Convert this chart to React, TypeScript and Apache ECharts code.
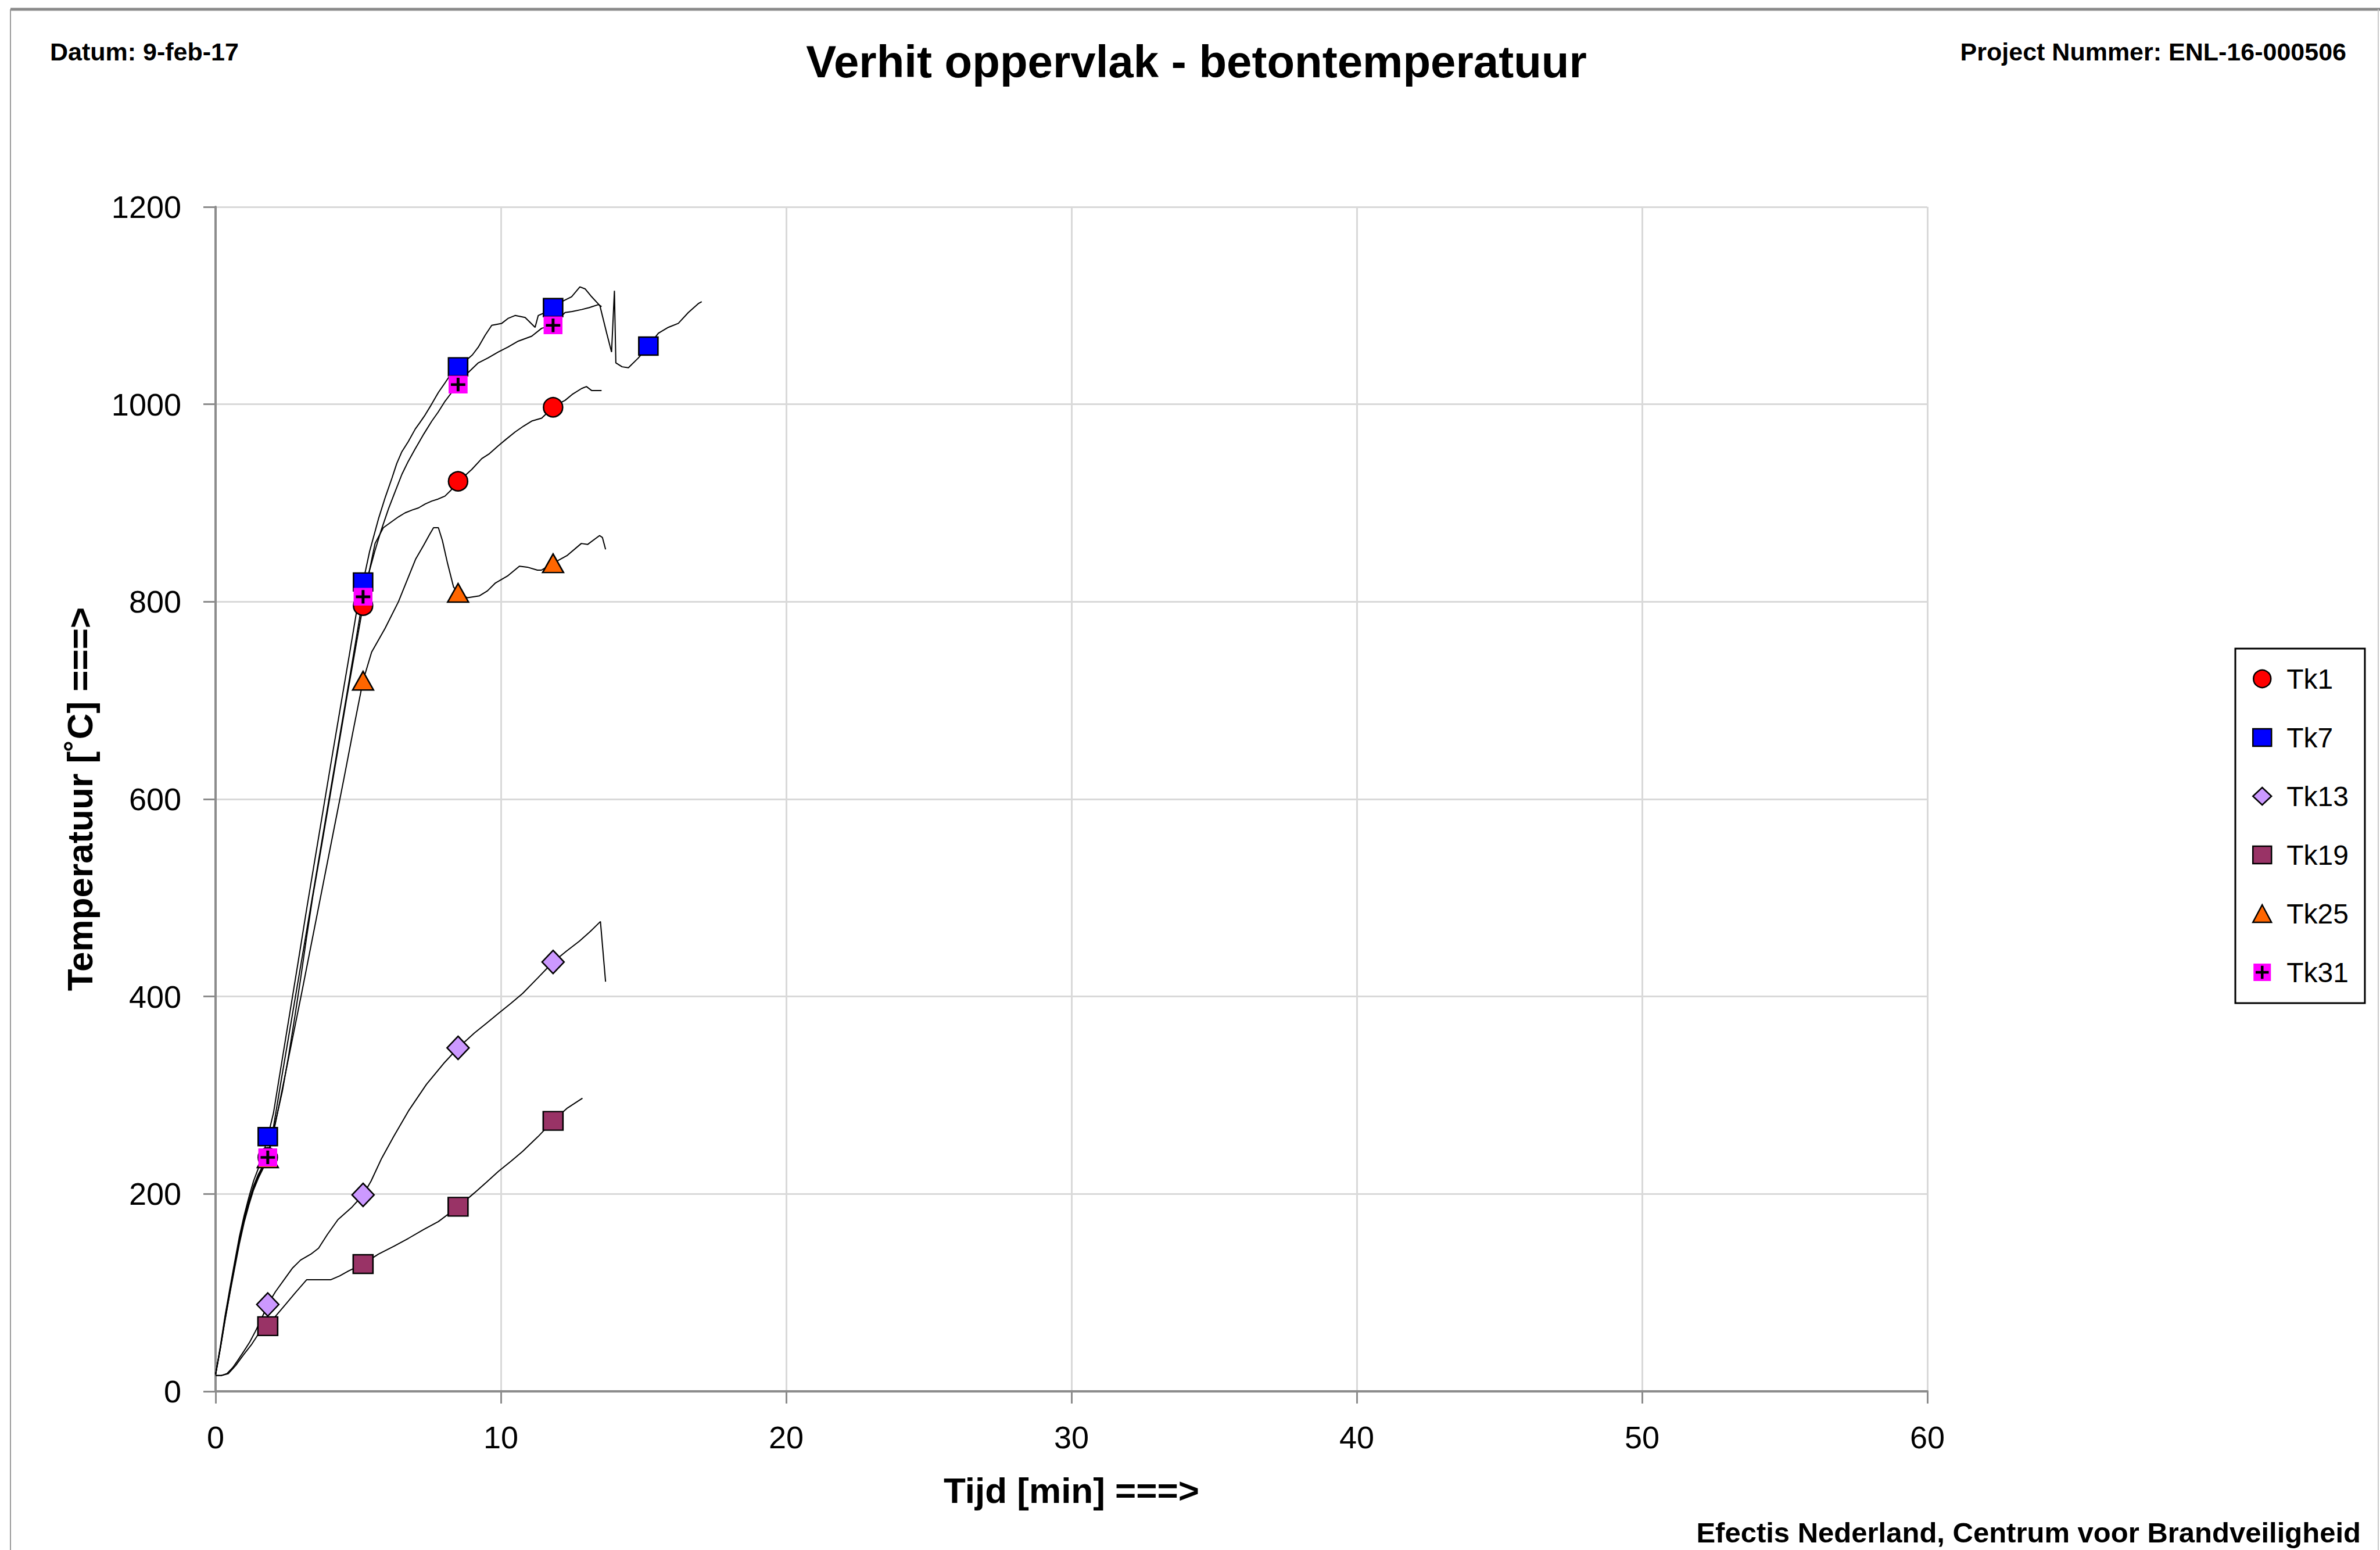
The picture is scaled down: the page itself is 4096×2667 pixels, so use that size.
import React, { useEffect, useRef } from 'react';
import * as echarts from 'echarts';

const FONT = '"Liberation Sans", Arial, Helvetica, sans-serif';

const headerLeft = 'Datum: 9-feb-17';
const headerRight = 'Project Nummer: ENL-16-000506';
const chartTitle = 'Verhit oppervlak - betontemperatuur';
const footerText = 'Efectis Nederland, Centrum voor Brandveiligheid';
const xAxisTitle = 'Tijd [min] ===>';
const yAxisTitle = 'Temperatuur [˚C] ===>';

const markerTimes = [1.83, 5.17, 8.5, 11.83, 15.17];

const seriesNames = ['Tk1', 'Tk7', 'Tk13', 'Tk19', 'Tk25', 'Tk31'];
const markerColors = ['#ff0000', '#0000ff', '#cc99ff', '#993366', '#ff6600', '#ff00ff'];

const t1 = [0, 0.17, 0.33, 0.5, 0.67, 0.83, 1.0, 1.17, 1.33, 1.5, 1.67, 1.83, 2.03, 2.34, 2.56, 2.77, 2.98, 3.19, 3.4, 3.7, 4.0, 4.3, 4.6, 4.9, 5.17, 5.36, 5.59, 5.88, 6.12, 6.41, 6.64, 6.9, 7.11, 7.35, 7.58, 7.8, 8.04, 8.25, 8.5, 8.75, 8.98, 9.33, 9.6, 9.91, 10.2, 10.5, 10.8, 11.08, 11.43, 11.83, 12.05, 12.25, 12.5, 12.83, 13.0, 13.18, 13.53];
const v1 = [17, 44, 72, 100, 127, 151, 173, 191, 206, 218, 228, 237, 264, 304, 340, 378, 418, 460, 500, 550, 601, 652, 703, 752, 796, 827, 859, 875, 880, 886, 890, 893, 895, 899, 902, 904, 907, 913, 922, 928, 934, 945, 950, 958, 965, 972, 978, 983, 986, 997, 1001, 1004, 1010, 1016, 1018, 1014, 1014];

const t7 = [0, 0.17, 0.33, 0.5, 0.67, 0.83, 1.0, 1.17, 1.33, 1.5, 1.67, 1.83, 2.03, 2.3, 2.6, 2.9, 3.2, 3.5, 3.8, 4.1, 4.4, 4.7, 5.0, 5.17, 5.4, 5.71, 5.95, 6.18, 6.35, 6.53, 6.75, 7.0, 7.15, 7.34, 7.55, 7.81, 8.05, 8.28, 8.5, 8.8, 9.0, 9.21, 9.45, 9.68, 10.03, 10.25, 10.5, 10.85, 11.2, 11.31, 11.55, 11.83, 12.13, 12.48, 12.77, 12.95, 13.18, 13.47, 13.71, 13.88, 13.98, 14.03, 14.25, 14.47, 14.82, 15.17, 15.52, 15.87, 16.22, 16.57, 16.92, 17.04];
const v7 = [17, 46, 76, 104, 131, 156, 178, 197, 213, 226, 240, 258, 282, 330, 383, 436, 490, 542, 594, 646, 697, 748, 800, 820, 851, 884, 906, 925, 940, 952, 962, 975, 981, 989, 999, 1012, 1022, 1032, 1038, 1045, 1050, 1058, 1070, 1080, 1082, 1087, 1090, 1088, 1078, 1090, 1093, 1098, 1104, 1109, 1119, 1117, 1109, 1100, 1072, 1053, 1115, 1042, 1038, 1037, 1047, 1059, 1072, 1078, 1082, 1093, 1102, 1104];

const t13 = [0, 0.2, 0.4, 0.6, 0.77, 1.0, 1.2, 1.4, 1.6, 1.83, 2.1, 2.45, 2.7, 2.98, 3.34, 3.61, 3.92, 4.29, 4.76, 5.17, 5.45, 5.82, 6.24, 6.76, 7.39, 8.02, 8.5, 9.07, 9.5, 9.92, 10.35, 10.76, 11.3, 11.83, 12.3, 12.75, 13.1, 13.49, 13.67];
const v13 = [16, 16, 18, 24, 31, 41, 50, 61, 73, 88, 101, 115, 125, 133, 139, 145, 159, 174, 186, 199, 213, 236, 258, 284, 311, 333, 348, 363, 373, 383, 393, 403, 419, 435, 446, 456, 465, 476, 415];

const t19 = [0, 0.2, 0.45, 0.7, 0.98, 1.25, 1.5, 1.83, 2.1, 2.45, 2.8, 3.19, 3.5, 4.03, 4.35, 4.66, 5.17, 5.71, 6.25, 6.76, 7.3, 7.81, 8.5, 9.07, 9.5, 9.92, 10.35, 10.76, 11.3, 11.83, 12.33, 12.86];
const v19 = [16, 16, 18, 26, 37, 47, 58, 66, 76, 88, 100, 113, 113, 113, 117, 122, 129, 139, 147, 155, 164, 172, 187, 201, 212, 223, 233, 243, 258, 274, 287, 297];

const t25 = [0, 0.17, 0.33, 0.5, 0.67, 0.83, 1.0, 1.17, 1.33, 1.5, 1.67, 1.83, 2.1, 2.4, 2.7, 3.0, 3.3, 3.6, 3.9, 4.2, 4.5, 4.8, 5.17, 5.47, 5.94, 6.41, 6.73, 7.01, 7.29, 7.5, 7.64, 7.81, 7.95, 8.13, 8.34, 8.5, 8.83, 9.25, 9.53, 9.81, 10.23, 10.65, 10.93, 11.28, 11.42, 11.83, 12.33, 12.82, 13.04, 13.46, 13.56, 13.67];
const v25 = [17, 44, 72, 99, 125, 149, 171, 189, 204, 216, 226, 236, 272, 315, 358, 401, 445, 489, 533, 577, 621, 666, 720, 749, 773, 800, 823, 843, 857, 868, 875, 875, 862, 839, 815, 809, 804, 806, 811, 819, 826, 836, 835, 832, 832, 839, 847, 859, 858, 867, 865, 853];

const t31 = [0, 0.17, 0.33, 0.5, 0.67, 0.83, 1.0, 1.17, 1.33, 1.5, 1.67, 1.83, 2.03, 2.3, 2.6, 2.9, 3.2, 3.5, 3.8, 4.1, 4.4, 4.7, 5.0, 5.17, 5.38, 5.59, 5.8, 6.06, 6.3, 6.53, 6.75, 7.0, 7.3, 7.58, 7.8, 8.04, 8.25, 8.5, 8.85, 9.21, 9.55, 9.91, 10.25, 10.61, 11.08, 11.43, 11.83, 12.05, 12.25, 12.5, 12.83, 13.1, 13.42, 13.53];
const v31 = [17, 45, 74, 102, 129, 153, 175, 193, 208, 220, 229, 237, 268, 315, 366, 417, 468, 519, 570, 621, 672, 723, 775, 805, 830, 852, 872, 894, 912, 929, 942, 955, 970, 983, 992, 1003, 1011, 1020, 1032, 1042, 1047, 1053, 1058, 1064, 1069, 1077, 1080, 1087, 1093, 1094, 1096, 1098, 1101, 1099];

const seriesTimes = [t1, t7, t13, t19, t25, t31];
const seriesValues = [v1, v7, v13, v19, v25, v31];

const plusSvg =
  '<svg xmlns="http://www.w3.org/2000/svg" width="40" height="40" viewBox="0 0 40 40">' +
  '<rect x="0" y="0" width="40" height="40" fill="#ff00ff"/>' +
  '<path d="M20 5V35M5 20H35" stroke="#000000" stroke-width="6"/></svg>';
const plusSymbol = 'image://data:image/svg+xml;charset=utf-8,' + encodeURIComponent(plusSvg);

const symbols = ['circle', 'rect', 'diamond', 'rect', 'triangle', plusSymbol];
const symbolSizes: any[] = [33, [33, 31], [38, 40], [34, 32], [36, 32], [33, 31]];

function buildData(ts: number[], vs: number[]) {
  const n = Math.min(ts.length, vs.length);
  const out: any[] = [];
  for (let i = 0; i < n; i++) {
    const isMarker = markerTimes.some((m) => Math.abs(m - ts[i]) < 1e-6);
    out.push(isMarker ? { value: [ts[i], vs[i]] } : { value: [ts[i], vs[i]], symbol: 'none' });
  }
  return out;
}

export default function App() {
  const ref = useRef<HTMLDivElement>(null);

  useEffect(() => {
    if (!ref.current) return;
    const chart = echarts.init(ref.current, undefined, { renderer: 'svg' });

    const series = seriesNames.map((name, i) => ({
      name,
      type: 'line',
      data: buildData(seriesTimes[i], seriesValues[i]),
      symbol: symbols[i],
      symbolSize: symbolSizes[i],
      showSymbol: true,
      smooth: false,
      lineStyle: { color: '#000000', width: 2 },
      itemStyle: {
        color: markerColors[i],
        borderColor: '#000000',
        borderWidth: i === 5 ? 0 : 2.5,
      },
      emphasis: { disabled: true },
      z: 3,
    }));

    const legendData = seriesNames.map((name, i) => ({
      name,
      icon: symbols[i],
      itemStyle: {
        color: markerColors[i],
        borderColor: '#000000',
        borderWidth: i === 5 ? 0 : 2.5,
      },
    }));

    const option: any = {
      animation: false,
      backgroundColor: '#ffffff',
      grid: { left: 371, top: 356, right: 779, bottom: 273, containLabel: false },
      xAxis: {
        type: 'value',
        min: 0,
        max: 60,
        interval: 10,
        name: xAxisTitle,
        nameLocation: 'middle',
        nameGap: 139,
        nameTextStyle: { fontSize: 62, fontWeight: 'bold', fontFamily: FONT, color: '#000' },
        axisLine: { show: true, onZero: false, lineStyle: { color: '#8c8c8c', width: 4 } },
        axisTick: { show: true, length: 21, lineStyle: { color: '#8c8c8c', width: 3 } },
        axisLabel: { fontSize: 54, fontFamily: FONT, color: '#000', margin: 52, formatter: (v: number) => String(v) },
        splitLine: { show: true, lineStyle: { color: '#d9d9d9', width: 3 } },
      },
      yAxis: {
        type: 'value',
        min: 0,
        max: 1200,
        interval: 200,
        name: yAxisTitle,
        nameLocation: 'middle',
        nameRotate: 90,
        nameGap: 203,
        nameTextStyle: { fontSize: 62, fontWeight: 'bold', fontFamily: FONT, color: '#000' },
        axisLine: { show: true, lineStyle: { color: '#8c8c8c', width: 4 } },
        axisTick: { show: true, length: 21, lineStyle: { color: '#8c8c8c', width: 3 } },
        axisLabel: { fontSize: 54, fontFamily: FONT, color: '#000', margin: 59, formatter: (v: number) => String(v) },
        splitLine: { show: true, lineStyle: { color: '#d9d9d9', width: 3 } },
      },
      legend: {
        orient: 'vertical',
        left: 3847,
        top: 1116,
        padding: [28, 28, 29, 29],
        itemGap: 53,
        itemWidth: 32,
        itemHeight: 30,
        backgroundColor: '#ffffff',
        borderColor: '#000000',
        borderWidth: 3,
        selectedMode: false,
        textStyle: { fontSize: 48, fontFamily: FONT, color: '#000', lineHeight: 47, padding: [0, 0, 0, 21] },
        data: legendData,
      },
      graphic: [
        { type: 'line', shape: { x1: 18, y1: 16, x2: 4096, y2: 16 }, style: { stroke: '#8a8a8a', lineWidth: 5 }, silent: true },
        { type: 'line', shape: { x1: 18, y1: 16, x2: 18, y2: 2667 }, style: { stroke: '#9a9a9a', lineWidth: 2 }, silent: true },
        { type: 'line', shape: { x1: 4093, y1: 16, x2: 4093, y2: 2667 }, style: { stroke: '#c8c8c8', lineWidth: 2 }, silent: true },
        {
          type: 'text', x: 86, y: 89, silent: true,
          style: { text: headerLeft, fontSize: 43, fontWeight: 'bold', fontFamily: FONT, fill: '#000', align: 'left', verticalAlign: 'middle' },
        },
        {
          type: 'text', x: 4038, y: 89, silent: true,
          style: { text: headerRight, fontSize: 43, fontWeight: 'bold', fontFamily: FONT, fill: '#000', align: 'right', verticalAlign: 'middle' },
        },
        {
          type: 'text', x: 2059, y: 106, silent: true,
          style: { text: chartTitle, fontSize: 78, fontWeight: 'bold', fontFamily: FONT, fill: '#000', align: 'center', verticalAlign: 'middle' },
        },
        {
          type: 'text', x: 4063, y: 2637, silent: true,
          style: { text: footerText, fontSize: 49, fontWeight: 'bold', fontFamily: FONT, fill: '#000', align: 'right', verticalAlign: 'middle' },
        },
      ],
      series,
    };

    chart.setOption(option);
    return () => chart.dispose();
  }, []);

  return (
    <div
      ref={ref}
      style={{ position: 'fixed', left: 0, top: 0, width: 4096, height: 2667, background: '#fff' }}
    />
  );
}
